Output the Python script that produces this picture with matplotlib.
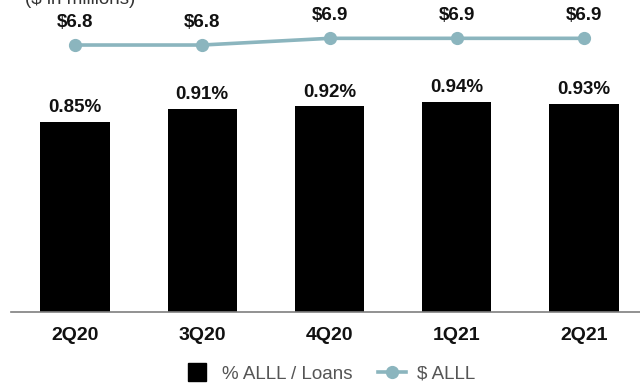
import matplotlib
matplotlib.use("Agg")
import matplotlib.pyplot as plt
from matplotlib.lines import Line2D

plt.rcParams['font.family'] = ['Liberation Sans', 'DejaVu Sans']

quarters = ["2Q20", "3Q20", "4Q20", "1Q21", "2Q21"]
alll_pct = [0.85, 0.91, 0.92, 0.94, 0.93]
alll_usd = [6.8, 6.8, 6.9, 6.9, 6.9]

pct_labels = [f"{v:.2f}%" for v in alll_pct]
usd_labels = [f"${v:.1f}" for v in alll_usd]

bar_color = "#000000"
line_color = "#8bb5be"

fig = plt.figure(figsize=(6.4, 3.85), dpi=100)
W, H = 640, 385
ax = fig.add_axes([11 / W, 1 - 312 / H, 1 - 11 / W, 312 / H])

x = list(range(len(quarters)))
ax.bar(x, alll_pct, width=0.545, color=bar_color, zorder=2)
ax.set_ylim(0, 1.396)
ax.set_xlim(-0.503, 4.44)

for xi, v, lab in zip(x, alll_pct, pct_labels):
    ax.annotate(lab, (xi, v), xytext=(0, 7), textcoords="offset points",
                ha="center", va="baseline", fontsize=13.5, fontweight="bold",
                color="#111111")

ax.set_xticks(x)
ax.set_xticklabels(quarters, fontsize=14, fontweight="bold", color="#111111")
ax.tick_params(axis="x", length=0, pad=11)
ax.set_yticks([])
for s in ["top", "left", "right"]:
    ax.spines[s].set_visible(False)
ax.spines["bottom"].set_color("#7f7f7f")
ax.spines["bottom"].set_linewidth(1.2)

ax2 = ax.twinx()
ax2.set_ylim(2.815, 7.472)
ax2.plot(x, alll_usd, color=line_color, linewidth=2.6, marker="o",
         markersize=8.5, zorder=3)
ax2.set_yticks([])
for s in ["top", "left", "right", "bottom"]:
    ax2.spines[s].set_visible(False)

for xi, v, lab in zip(x, alll_usd, usd_labels):
    ax2.annotate(lab, (xi, v), xytext=(0, 13), textcoords="offset points",
                 ha="center", va="baseline", fontsize=13.5, fontweight="bold",
                 color="#111111")

fig.text(25 / W, 1 - 4 / H, "($ in millions)", fontsize=13.5, color="#333333",
         ha="left", va="baseline")

handles = [
    Line2D([], [], marker="s", color=bar_color, linestyle="none", markersize=13),
    Line2D([], [], marker="o", color=line_color, linewidth=2.6, markersize=8.5),
]
fig.legend(handles, ["% ALLL / Loans", "$ ALLL"], loc="center",
           bbox_to_anchor=(329 / W, 1 - 374 / H), ncol=2, frameon=False,
           fontsize=13.5, labelcolor="#555555", handlelength=1.5,
           handletextpad=0.55, columnspacing=1.4)

fig.savefig("out.png", dpi=100)
